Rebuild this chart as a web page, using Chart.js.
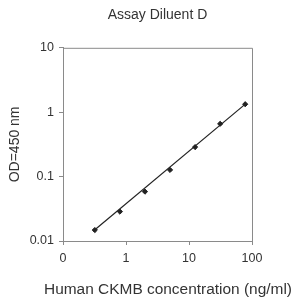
<!DOCTYPE html>
<html><head><meta charset="utf-8">
<script src="https://cdn.jsdelivr.net/npm/chart.js@4/dist/chart.umd.min.js"></script>
<style>html,body{margin:0;padding:0;background:#fff}#w{width:294px;height:299px}</style>
</head><body><div id="w"><canvas id="c"></canvas></div>
<script>
const concentrations = [0.32, 0.8, 2, 5, 12.5, 31.25, 78];
const odValues = [0.0148, 0.0286, 0.0584, 0.127, 0.287, 0.66, 1.33];
const fitX = [0.3, 80];
const fitY = [0.0142, 1.36];
const xTickValues = [0.1, 1, 10, 100];
const xTickLabels = ['0', '1', '10', '100'];
const yTickValues = [0.01, 0.1, 1, 10];
const yTickLabels = ['0.01', '0.1', '1', '10'];
const xAxisTitle = 'Human CKMB concentration (ng/ml)';

const FONT = 'Liberation Sans, Arial, sans-serif';
const boxPlugin = {
  id: 'box',
  afterDraw(chart) {
    const {ctx, chartArea: a} = chart;
    ctx.save();
    ctx.strokeStyle = '#8a8a8a';
    ctx.lineWidth = 1;
    ctx.beginPath();
    ctx.moveTo(a.left, a.top + 0.5);
    ctx.lineTo(a.right + 0.5, a.top + 0.5);
    ctx.lineTo(a.right + 0.5, a.bottom);
    ctx.stroke();
    ctx.fillStyle = '#333';
    ctx.font = '16px ' + FONT;
    const w16 = ctx.measureText(xAxisTitle).width;
    const size = Math.min(16, 16 * 248 / w16);
    ctx.font = size.toFixed(2) + 'px ' + FONT;
    ctx.textAlign = 'center';
    ctx.textBaseline = 'middle';
    ctx.fillText(xAxisTitle, 168, 290);
    ctx.restore();
  }
};

new Chart(document.getElementById('c'), {
  type: 'scatter',
  data: {
    datasets: [
      {
        data: fitX.map((x, i) => ({x, y: fitY[i]})),
        showLine: true, borderColor: '#222', borderWidth: 1.2,
        pointRadius: 0, fill: false
      },
      {
        data: concentrations.map((x, i) => ({x, y: odValues[i]})),
        showLine: false, pointStyle: 'rectRot', pointRadius: 2.6,
        backgroundColor: '#222', borderColor: '#222', borderWidth: 1
      }
    ]
  },
  options: {
    responsive: true, maintainAspectRatio: false, animation: false,
    layout: {padding: {left: 0, right: 42, top: 0, bottom: 0}},
    plugins: {
      legend: {display: false}, tooltip: {enabled: false},
      title: {display: true, fullSize: false, text: 'Assay Diluent D', color: '#333',
        font: {family: FONT, size: 14, weight: 'normal'}, padding: {top: 7, bottom: 24}}
    },
    scales: {
      x: {
        type: 'logarithmic', min: 0.1, max: 100,
        afterBuildTicks(s) { s.ticks = xTickValues.map(v => ({value: v})); },
        afterFit(s) { s.height = 58; },
        ticks: {color: '#333', font: {family: FONT, size: 12.5}, padding: 6, maxRotation: 0,
          autoSkip: false,
          callback(v) { const i = xTickValues.indexOf(v); return i >= 0 ? xTickLabels[i] : ''; }},
        grid: {drawOnChartArea: false, color: '#8a8a8a', tickLength: 4},
        border: {color: '#8a8a8a', width: 1},
        title: {display: false}
      },
      y: {
        type: 'logarithmic', min: 0.01, max: 10,
        afterBuildTicks(s) { s.ticks = yTickValues.map(v => ({value: v})); },
        afterFit(s) { s.width = 63; },
        ticks: {color: '#333', font: {family: FONT, size: 12.5}, padding: 5, autoSkip: false,
          callback(v) { const i = yTickValues.indexOf(v); return i >= 0 ? yTickLabels[i] : ''; }},
        grid: {drawOnChartArea: false, color: '#8a8a8a', tickLength: 4},
        border: {color: '#8a8a8a', width: 1},
        title: {display: true, text: 'OD=450 nm', color: '#333',
          font: {family: FONT, size: 14}, padding: {top: 7, bottom: 0}}
      }
    }
  },
  plugins: [boxPlugin]
});
</script></body></html>
